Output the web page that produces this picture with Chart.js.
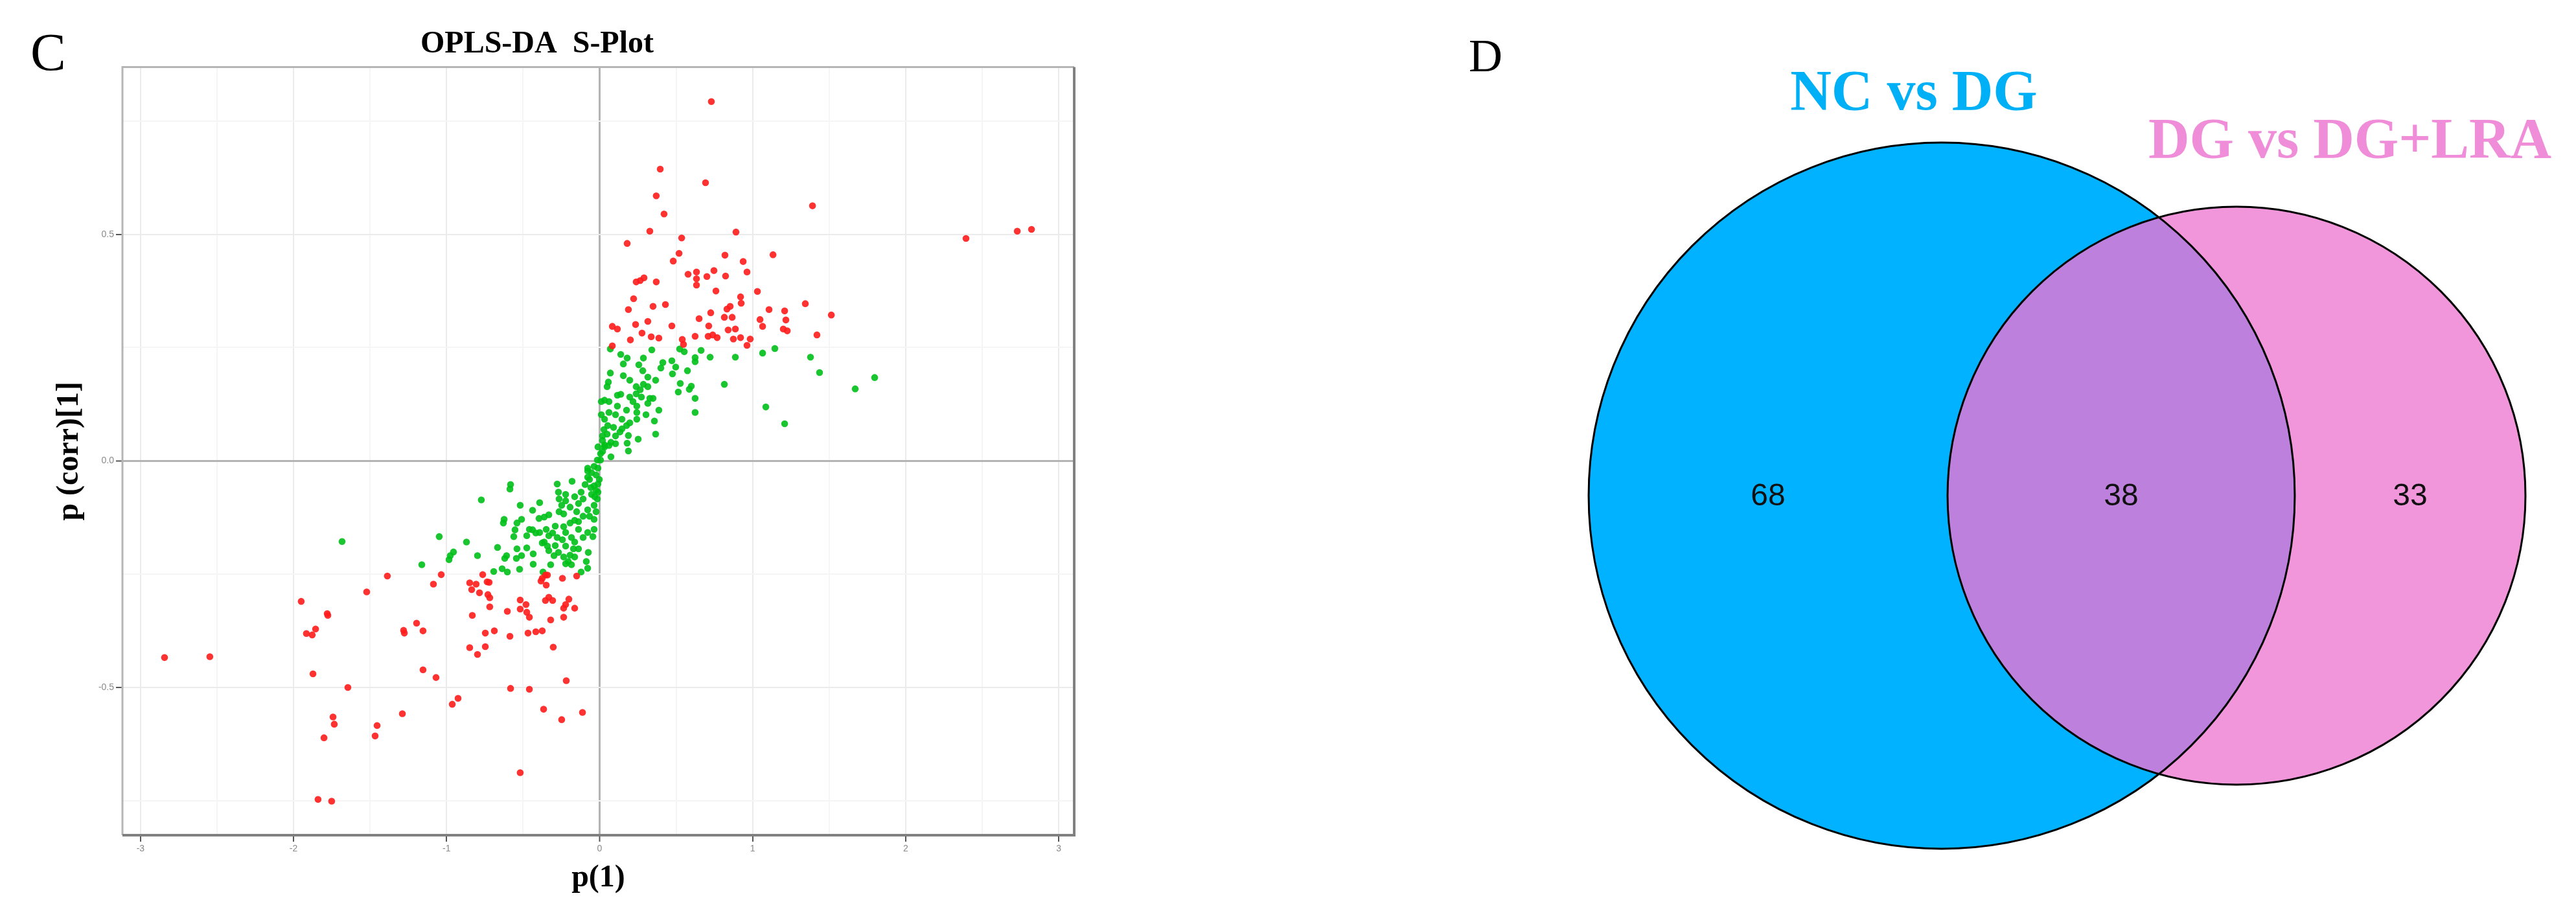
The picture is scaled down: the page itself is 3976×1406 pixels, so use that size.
<!DOCTYPE html>
<html>
<head>
<meta charset="utf-8">
<title>OPLS-DA S-Plot and Venn</title>
<script src="https://cdn.jsdelivr.net/npm/chart.js@4.4.1/dist/chart.umd.min.js"></script>
<style>
  html, body { margin: 0; padding: 0; background: #fff; }
  body { width: 3976px; height: 1406px; position: relative; overflow: hidden; }
  .panel { position: absolute; }
  #splotBox { left: 0; top: 0; width: 1700px; height: 1406px; }
  #vennBox { left: 2200px; top: 0; width: 1776px; height: 1406px; }
  .tag { position: absolute; font-family: 'Liberation Serif', 'Times New Roman', serif; line-height: 1; color: #000; }
  .setname { position: absolute; font-family: 'Liberation Serif', 'Times New Roman', serif; font-weight: bold;
             font-size: 88px; line-height: 1; white-space: nowrap; transform: translateX(-50%); }
</style>
</head>
<body>
<div class="tag" style="left:47px; top:40px; font-size:82px;">C</div>
<div class="tag" style="left:2267px; top:50px; font-size:72px;">D</div>
<div class="setname" id="setA" style="left:2954px; top:96px; color:#00b0f6;"></div>
<div class="setname" id="setB" style="left:3627px; top:170px; color:#f08dd9;"></div>

<div class="panel" id="splotBox"><canvas id="splot"></canvas></div>
<div class="panel" id="vennBox"><canvas id="venn"></canvas></div>

<script>
// S-plot: [p(1), p(corr)[1]] per metabolite
const sigPoints = [
  [-1.387,-0.254],[-1.522,-0.289],[-1.950,-0.310],[-1.780,-0.337],[-1.776,-0.341],
  [-1.856,-0.371],[-1.916,-0.381],[-1.878,-0.384],[-1.281,-0.374],[-1.276,-0.380],
  [-2.843,-0.434],[-2.547,-0.432],[-1.873,-0.470],[-1.645,-0.500],[-1.289,-0.558],
  [-1.742,-0.565],[-1.734,-0.581],[-1.454,-0.584],[-1.467,-0.607],[-1.801,-0.611],
  [-1.840,-0.747],[-1.751,-0.751],[-1.035,-0.251],[-1.086,-0.272],[-1.196,-0.358],
  [-1.154,-0.375],[-0.764,-0.251],[-0.849,-0.269],[-0.807,-0.272],[-0.836,-0.284],
  [-0.785,-0.291],[-0.735,-0.267],[-0.722,-0.268],[-0.730,-0.295],[-0.718,-0.302],
  [-0.718,-0.322],[-0.832,-0.341],[-0.603,-0.332],[-0.519,-0.307],[-0.481,-0.317],
  [-0.519,-0.327],[-0.476,-0.334],[-0.459,-0.345],[-0.375,-0.259],[-0.354,-0.252],
  [-0.341,-0.252],[-0.383,-0.265],[-0.349,-0.274],[-0.243,-0.259],[-0.150,-0.254],
  [-0.332,-0.301],[-0.354,-0.308],[-0.307,-0.308],[-0.201,-0.305],[-0.222,-0.317],
  [-0.235,-0.325],[-0.163,-0.325],[-0.320,-0.351],[-0.235,-0.345],[-0.747,-0.380],
  [-0.688,-0.375],[-0.586,-0.387],[-0.468,-0.380],[-0.417,-0.377],[-0.375,-0.375],
  [-0.849,-0.412],[-0.798,-0.427],[-0.747,-0.410],[-0.303,-0.411],[-1.154,-0.461],
  [-1.069,-0.478],[-0.925,-0.524],[-0.963,-0.537],[-0.582,-0.502],[-0.459,-0.504],
  [-0.218,-0.485],[-0.366,-0.548],[-0.248,-0.571],[-0.112,-0.555],[-0.519,-0.688],
  [0.519,0.458],[0.481,0.441],[0.819,0.454],[0.938,0.440],[1.133,0.455],
  [0.963,0.417],[0.578,0.412],[0.633,0.417],[0.633,0.402],[0.633,0.388],
  [0.701,0.407],[0.747,0.420],[0.823,0.408],[0.760,0.375],[0.239,0.395],
  [0.265,0.398],[0.290,0.404],[0.370,0.395],[0.222,0.358],[0.188,0.334],
  [0.349,0.341],[0.430,0.345],[0.315,0.308],[0.235,0.301],[0.083,0.297],
  [0.116,0.291],[0.472,0.298],[0.277,0.282],[0.201,0.267],[0.337,0.274],
  [0.387,0.271],[0.083,0.254],[0.540,0.268],[0.548,0.257],[0.624,0.275],
  [0.650,0.314],[0.726,0.327],[0.713,0.298],[0.709,0.275],[0.739,0.278],
  [0.768,0.272],[0.815,0.317],[0.866,0.317],[0.832,0.335],[0.853,0.341],
  [0.921,0.362],[0.925,0.348],[1.031,0.374],[1.107,0.334],[1.048,0.312],
  [1.065,0.297],[0.840,0.289],[0.887,0.291],[0.874,0.269],[0.921,0.272],
  [0.984,0.269],[0.963,0.255],[1.209,0.331],[1.217,0.311],[1.200,0.291],
  [1.226,0.287],[0.730,0.793],[0.396,0.644],[0.692,0.614],[0.370,0.585],
  [0.421,0.545],[0.328,0.507],[0.536,0.492],[0.891,0.505],[0.180,0.480],
  [1.391,0.563],[2.394,0.491],[2.729,0.507],[2.822,0.511],[1.344,0.347],
  [1.514,0.322],[1.420,0.278]
];

const restPoints = [
  [-1.683,-0.178],
  [-0.582,-0.052],[-0.586,-0.062],[-0.773,-0.086],[-1.048,-0.167],[-0.870,-0.179],
  [-0.955,-0.201],[-0.976,-0.209],[-0.984,-0.218],[-1.162,-0.229],[-0.798,-0.209],
  [-0.667,-0.191],[-0.692,-0.244],[-0.637,-0.238],[-0.603,-0.245],[-0.523,-0.239],
  [-0.608,-0.209],[-0.620,-0.215],[-0.540,-0.194],[-0.544,-0.215],[-0.510,-0.209],
  [-0.476,-0.192],[-0.434,-0.205],[-0.434,-0.228],[-0.519,-0.098],[-0.624,-0.129],
  [-0.629,-0.137],[-0.540,-0.137],[-0.510,-0.129],[-0.553,-0.152],[-0.561,-0.167],
  [-0.476,-0.165],[-0.392,-0.092],[-0.438,-0.109],[-0.396,-0.127],[-0.362,-0.124],
  [-0.332,-0.119],[-0.438,-0.152],[-0.392,-0.158],[-0.349,-0.151],[-0.375,-0.181],
  [-0.362,-0.179],[-0.332,-0.165],[-0.307,-0.159],[-0.277,-0.051],[-0.269,-0.069],
  [-0.265,-0.084],[-0.248,-0.098],[-0.265,-0.112],[-0.235,-0.117],[-0.222,-0.074],
  [-0.180,-0.045],[-0.163,-0.079],[-0.138,-0.094],[-0.108,-0.084],[-0.078,-0.108],
  [-0.036,-0.098],[-0.015,-0.084],[-0.023,-0.065],[-0.011,-0.051],[-0.036,-0.129],
  [-0.078,-0.158],[-0.044,-0.167],[-0.074,-0.202],[-0.087,-0.222],[-0.121,-0.245],
  [-0.290,-0.144],[-0.235,-0.145],[-0.193,-0.137],[-0.163,-0.131],[-0.138,-0.134],
  [-0.222,-0.158],[-0.184,-0.169],[-0.163,-0.179],[-0.171,-0.194],[-0.193,-0.208],
  [-0.205,-0.222],[-0.184,-0.229],[-0.235,-0.212],[-0.269,-0.202],[-0.298,-0.209],
  [-0.320,-0.229],[-0.370,-0.245],[-0.243,-0.174],[-0.277,-0.169],[-0.341,-0.188],
  [-0.011,0.031],[0.006,0.016],[-0.015,0.002],[-0.036,-0.012],[-0.053,-0.026],
  [-0.066,-0.041],[-0.078,-0.022],[-0.023,-0.031],[-0.002,-0.041],[-0.095,-0.052],
  [-0.057,-0.059],[-0.011,-0.069],[-0.032,-0.079],[0.188,0.022],[0.074,0.009],
  [-0.222,-0.088],[-0.193,-0.102],[-0.150,-0.112],[-0.108,-0.122],[-0.066,-0.122],
  [-0.023,-0.112],[-0.053,-0.074],[-0.121,-0.069],[-0.138,-0.151],[-0.108,-0.169],
  [-0.138,-0.194],[-0.222,-0.188],[-0.290,-0.187],[-0.332,-0.198],[-0.163,-0.212],
  [-0.222,-0.227],[-0.417,-0.159],[-0.459,-0.151],[-0.036,-0.151],[-0.078,-0.237],
  [-0.036,-0.055],[-0.011,-0.016],[0.006,0.002],[0.019,0.021],[0.032,0.031],
  [-0.078,-0.036],[-0.078,-0.016],
  [0.070,0.247],[0.341,0.245],[0.523,0.247],[0.553,0.241],[0.663,0.244],
  [0.624,0.228],[0.624,0.219],[0.722,0.229],[0.887,0.229],[1.065,0.238],
  [1.145,0.248],[0.138,0.235],[0.180,0.227],[0.155,0.214],[0.286,0.227],
  [0.256,0.212],[0.282,0.199],[0.472,0.221],[0.413,0.217],[0.400,0.205],
  [0.497,0.207],[0.476,0.192],[0.574,0.199],[0.070,0.194],[0.057,0.174],
  [0.049,0.164],[0.155,0.188],[0.197,0.178],[0.315,0.185],[0.286,0.169],
  [0.366,0.178],[0.239,0.164],[0.527,0.171],[0.599,0.165],[0.586,0.158],
  [0.514,0.152],[0.815,0.169],[0.624,0.138],[0.624,0.107],[1.086,0.119],
  [1.209,0.082],[0.138,0.147],[0.197,0.141],[0.239,0.148],[0.349,0.138],
  [0.315,0.127],[0.032,0.134],[0.116,0.121],[0.176,0.112],[0.243,0.107],
  [0.387,0.112],[0.303,0.102],[0.358,0.088],[0.061,0.107],[0.032,0.092],
  [0.146,0.092],[0.176,0.078],[0.091,0.074],[0.028,0.069],[0.049,0.059],
  [0.104,0.055],[0.188,0.056],[0.366,0.059],[0.252,0.048],[0.180,0.039],
  [0.019,0.045],[0.074,0.041],[0.032,0.035],[0.133,0.064],[0.243,0.121],
  [0.273,0.141],
  [0.011,0.131],[0.061,0.131],[0.116,0.145],[0.218,0.131],[0.265,0.157],
  [0.315,0.164],[0.011,0.102],[0.104,0.102],[0.053,0.078],[0.146,0.071],
  [0.019,0.055],[0.061,0.034],[0.104,0.038],[0.197,0.084],[0.243,0.092],
  [0.328,0.138],
  [1.378,0.229],[1.437,0.195],[1.670,0.159],[1.797,0.184]
];

const xTickValues = [-3, -2.5, -2, -1.5, -1, -0.5, 0, 0.5, 1, 1.5, 2, 2.5, 3];
const yTickValues = [-0.75, -0.5, -0.25, 0, 0.25, 0.5, 0.75];

// Venn: set names, and counts for [only A, A and B, only B]
const vennSets = ['NC vs DG', 'DG vs DG+LRA'];
const vennCounts = [68, 38, 33];

// venn geometry (chart units), radius = k * sqrt(set size)
const vennLayout = { width: 1776, height: 1406, centers: [[797, 765], [1252, 765]], k: 52.93 };
const vennColors = ['#00b2ff', '#f296db'];
const vennOverlap = '#be80dd';

const asXY = arr => arr.map(p => ({ x: p[0], y: p[1] }));
const isMajor = (v, step) => Math.abs(v / step - Math.round(v / step)) < 1e-6;

function gridFor(step) {
  return {
    color: c => c.tick.value === 0 ? '#b4b4b4' : (isMajor(c.tick.value, step) ? '#ebebeb' : '#f5f5f5'),
    lineWidth: c => c.tick.value === 0 ? 3 : 2,
    tickColor: c => isMajor(c.tick.value, step) ? '#555' : 'rgba(0,0,0,0)',
    tickLength: 10,
    tickWidth: 2
  };
}

const serifBold = size => ({ family: "'Liberation Serif', 'Times New Roman', serif", size: size, weight: 'bold' });
const tickFont = { family: "'Liberation Sans', Arial, sans-serif", size: 14 };

// frame around the panel, darker on bottom/right like the figure
const panelFrame = {
  id: 'panelFrame',
  afterDatasetsDraw(chart) {
    const { ctx, chartArea: a } = chart;
    ctx.save();
    ctx.lineWidth = 3;
    ctx.strokeStyle = '#b5b5b5';
    ctx.beginPath();
    ctx.moveTo(a.left, a.bottom); ctx.lineTo(a.left, a.top); ctx.lineTo(a.right, a.top);
    ctx.stroke();
    ctx.lineWidth = 4;
    ctx.strokeStyle = '#808080';
    ctx.beginPath();
    ctx.moveTo(a.left, a.bottom); ctx.lineTo(a.right, a.bottom); ctx.lineTo(a.right, a.top);
    ctx.stroke();
    ctx.restore();
  }
};

new Chart(document.getElementById('splot'), {
  type: 'scatter',
  data: {
    datasets: [
      { label: 'VIP > 1', data: asXY(sigPoints), backgroundColor: 'rgba(255,28,28,0.9)', borderWidth: 0, pointRadius: 5.3 },
      { label: 'other', data: asXY(restPoints), backgroundColor: 'rgba(0,192,24,0.9)', borderWidth: 0, pointRadius: 5.3 }
    ]
  },
  options: {
    responsive: true,
    maintainAspectRatio: false,
    animation: false,
    events: [],
    layout: { padding: { left: 0, right: 42, top: 0, bottom: 0 } },
    plugins: {
      legend: { display: false },
      tooltip: { enabled: false },
      title: {
        display: true,
        text: 'OPLS-DA  S-Plot',
        color: '#000',
        font: serifBold(48),
        padding: { top: 40, bottom: 6 }
      }
    },
    scales: {
      x: {
        type: 'linear',
        min: -3.118,
        max: 3.101,
        afterBuildTicks: axis => { axis.ticks = xTickValues.map(value => ({ value })); },
        afterFit: axis => { axis.height = 117; },
        border: { display: false },
        grid: gridFor(1),
        ticks: {
          autoSkip: false,
          maxRotation: 0,
          padding: 3,
          color: '#8a8a8a',
          font: tickFont,
          callback: v => isMajor(v, 1) ? String(v) : ''
        },
        title: { display: true, text: 'p(1)', color: '#000', font: serifBold(48), padding: { top: 0, bottom: 22 } }
      },
      y: {
        type: 'linear',
        min: -0.826,
        max: 0.869,
        afterBuildTicks: axis => { axis.ticks = yTickValues.map(value => ({ value })); },
        afterFit: axis => { axis.width = 189; },
        border: { display: false },
        grid: gridFor(0.5),
        ticks: {
          autoSkip: false,
          padding: 3,
          color: '#8a8a8a',
          font: tickFont,
          callback: v => isMajor(v, 0.5) ? v.toFixed(1) : ''
        },
        title: { display: true, text: 'p (corr)[1]', color: '#000', font: serifBold(48), padding: { top: 79, bottom: 0 } }
      }
    }
  },
  plugins: [panelFrame]
});

// ---- Venn diagram ----
document.getElementById('setA').textContent = vennSets[0];
document.getElementById('setB').textContent = vennSets[1];

const setSizes = [vennCounts[0] + vennCounts[1], vennCounts[1] + vennCounts[2]];
const circles = vennLayout.centers.map((c, i) => ({ cx: c[0], cy: c[1], r: vennLayout.k * Math.sqrt(setSizes[i]) }));

// count labels sit halfway across each region along the centre line
const edges = [circles[0].cx - circles[0].r, circles[1].cx - circles[1].r, circles[0].cx + circles[0].r, circles[1].cx + circles[1].r];
const labelPos = [0, 1, 2].map(i => ({ x: (edges[i] + edges[i + 1]) / 2, y: circles[0].cy }));

const vennPlugin = {
  id: 'vennPlugin',
  beforeDatasetsDraw(chart) {
    const { ctx, scales: { x, y } } = chart;
    const unit = x.getPixelForValue(1) - x.getPixelForValue(0);
    const cs = circles.map(c => ({ x: x.getPixelForValue(c.cx), y: y.getPixelForValue(c.cy), r: c.r * unit }));
    const path = c => { ctx.beginPath(); ctx.arc(c.x, c.y, c.r, 0, Math.PI * 2); };
    ctx.save();
    cs.forEach((c, i) => { path(c); ctx.fillStyle = vennColors[i]; ctx.fill(); });
    ctx.save();
    path(cs[0]); ctx.clip();
    path(cs[1]); ctx.fillStyle = vennOverlap; ctx.fill();
    ctx.restore();
    ctx.lineWidth = 3;
    ctx.strokeStyle = '#000';
    cs.forEach(c => { path(c); ctx.stroke(); });
    ctx.restore();
  },
  afterDatasetsDraw(chart) {
    const { ctx } = chart;
    const meta = chart.getDatasetMeta(0);
    ctx.save();
    ctx.font = "48px 'Liberation Sans', Arial, sans-serif";
    ctx.fillStyle = '#111';
    ctx.textAlign = 'center';
    ctx.textBaseline = 'middle';
    meta.data.forEach((pt, i) => ctx.fillText(String(vennCounts[i]), pt.x, pt.y + 2));
    ctx.restore();
  }
};

new Chart(document.getElementById('venn'), {
  type: 'scatter',
  data: { datasets: [{ data: labelPos, pointRadius: 0, backgroundColor: 'rgba(0,0,0,0)' }] },
  options: {
    responsive: true,
    maintainAspectRatio: false,
    animation: false,
    events: [],
    layout: { padding: 0 },
    plugins: { legend: { display: false }, tooltip: { enabled: false } },
    scales: {
      x: { type: 'linear', min: 0, max: vennLayout.width, display: false },
      y: { type: 'linear', min: 0, max: vennLayout.height, reverse: true, display: false }
    }
  },
  plugins: [vennPlugin]
});
</script>
</body>
</html>
